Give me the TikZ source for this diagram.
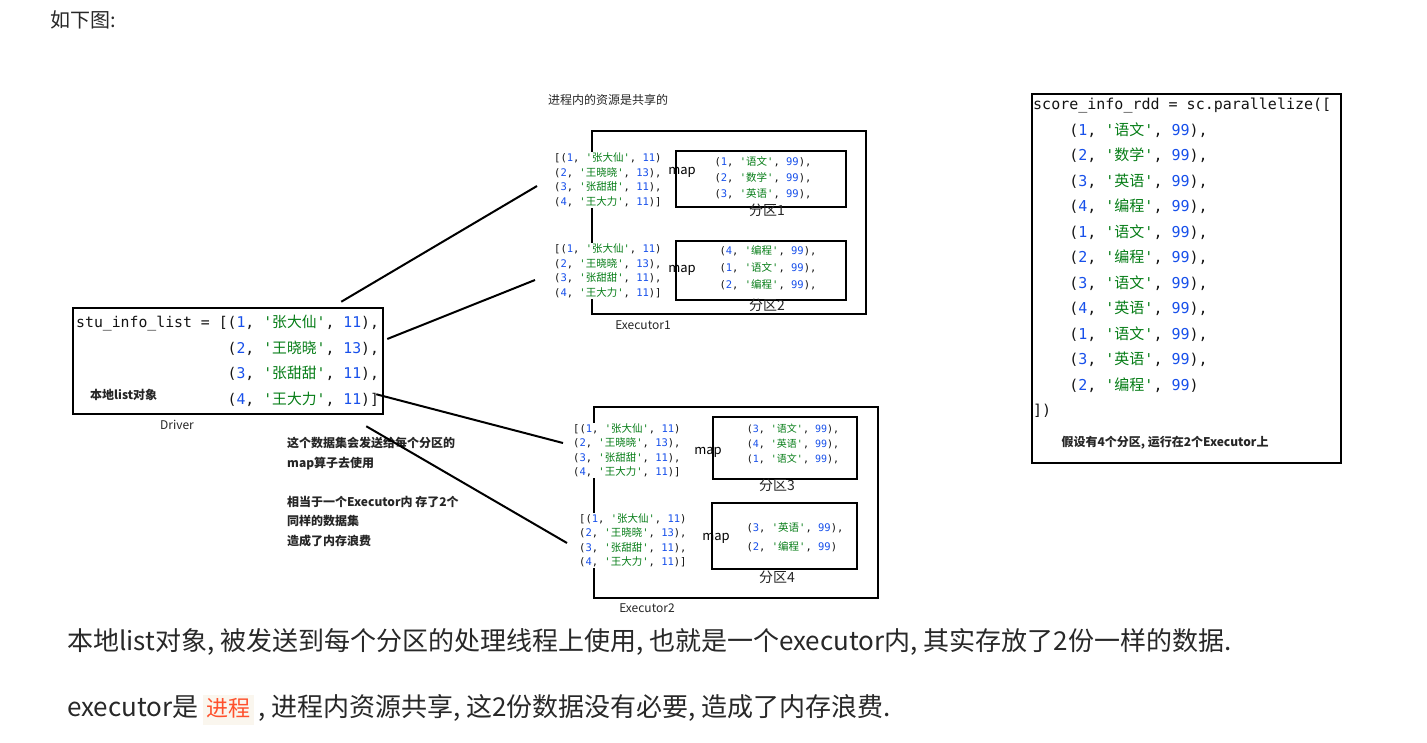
\documentclass[tikz,border=0pt]{standalone}
\usepackage{fontspec}
\setmainfont{Noto Sans CJK SC}
\setmonofont{DejaVu Sans Mono}
\newfontfamily\cjk{Noto Sans CJK SC}
\definecolor{numblue}{RGB}{23,80,235}
\definecolor{strgreen}{RGB}{6,125,23}
\definecolor{codedark}{RGB}{20,20,20}
\definecolor{bodytext}{RGB}{40,40,40}
\definecolor{hlred}{RGB}{255,80,44}
\definecolor{hlbg}{RGB}{250,246,238}
\newcommand{\pyrow}[3]{(\textcolor{numblue}{#1}, \textcolor{strgreen}{'{\cjk #2}'}, \textcolor{numblue}{#3})}
\usetikzlibrary{positioning}

\begin{document}
\begin{tikzpicture}[x=1pt, y=-1pt,
    box/.style={draw=black, line width=2.2pt},
    part/.style={draw=black, line width=2.5pt},
    lbl/.style={font=\fontsize{12}{14}\selectfont, text=black!85, inner sep=0pt},
    boldlbl/.style={font=\bfseries\fontsize{12}{19.6}\selectfont, text=black!85, inner sep=0pt, align=left},
    maplbl/.style={font=\fontsize{13}{15}\selectfont, inner sep=0pt},
    biglist/.style={font=\ttfamily\fontsize{14.8}{25.6}\selectfont, align=left, inner sep=0pt, text=codedark},
    smalllist/.style={font=\ttfamily\fontsize{10.5}{14.5}\selectfont, align=left, inner sep=1pt, fill=white, text=codedark},
    partdata/.style={font=\ttfamily\fontsize{10.5}{16}\selectfont, align=left, inner sep=0pt, text=codedark},
    link/.style={line width=2pt},
    body/.style={font=\fontsize{26}{30}\selectfont, text=bodytext, inner sep=0pt, anchor=west}
]
\fill[white] (0,0) rectangle (1427,742);
\useasboundingbox (0,0) rectangle (1427,742);

% Header
\node[body, font=\fontsize{20}{24}\selectfont] (intro) at (50,20) {如下图:};

% Driver
\node[box, line width=2.5pt, minimum width=310pt, minimum height=106pt] (driver) at (228,361) {};
\node[biglist, anchor=west] (drivercode) at (76,361) {stu\_info\_list = [\pyrow{1}{张大仙}{11},\\
\hphantom{stu\_info\_list = [}\pyrow{2}{王晓晓}{13},\\
\hphantom{stu\_info\_list = [}\pyrow{3}{张甜甜}{11},\\
\hphantom{stu\_info\_list = [}\pyrow{4}{王大力}{11}]};
\node[boldlbl, anchor=west] (locallbl) at (90,395) {本地list对象};
\node[lbl] (driverlbl) at (177,425) {Driver};

% Note
\node[boldlbl, anchor=west] (note) at (287,492) {这个数据集会发送给每个分区的\\map算子去使用\\[19.6pt]相当于一个Executor内 存了2个\\同样的数据集\\造成了内存浪费};

% Executor1
\node[lbl] (sharenote) at (608,100) {进程内的资源是共享的};
\node[box, minimum width=274pt, minimum height=183pt] (exec1) at (729,222.5) {};
\node[lbl] (exec1lbl) at (643,325) {Executor1};
\node[part, minimum width=170pt, minimum height=56pt] (part1) at (761,179) {};
\node[part, minimum width=170pt, minimum height=59pt] (part2) at (761,270.5) {};
\node[partdata] (data1) at (763,178) {\pyrow{1}{语文}{99},\\\pyrow{2}{数学}{99},\\\pyrow{3}{英语}{99},};
\node[partdata, font=\ttfamily\fontsize{10.5}{17}\selectfont] (data2) at (768,268) {\pyrow{4}{编程}{99},\\\pyrow{1}{语文}{99},\\\pyrow{2}{编程}{99},};
\node[lbl, font=\fontsize{14}{16}\selectfont] (part1lbl) at (767,210) {分区1};
\node[lbl, font=\fontsize{14}{16}\selectfont] (part2lbl) at (767,305) {分区2};
\node[smalllist, anchor=west] (list1) at (553,180) {[\pyrow{1}{张大仙}{11}\\\pyrow{2}{王晓晓}{13},\\\pyrow{3}{张甜甜}{11},\\\pyrow{4}{王大力}{11}]};
\node[smalllist, anchor=west] (list2) at (553,271) {[\pyrow{1}{张大仙}{11}\\\pyrow{2}{王晓晓}{13},\\\pyrow{3}{张甜甜}{11},\\\pyrow{4}{王大力}{11}]};
\node[maplbl] (map1) at (682,172) {map};
\node[maplbl] (map2) at (682,270) {map};

% Executor2
\node[box, minimum width=284pt, minimum height=191pt] (exec2) at (736,502.5) {};
\node[lbl] (exec2lbl) at (647,608) {Executor2};
\node[part, minimum width=144pt, minimum height=62pt] (part3) at (785,448) {};
\node[part, minimum width=145pt, minimum height=66pt] (part4) at (784.5,536) {};
\node[partdata, font=\ttfamily\fontsize{10}{15}\selectfont] (data3) at (793,444) {\pyrow{3}{语文}{99},\\\pyrow{4}{英语}{99},\\\pyrow{1}{语文}{99},};
\node[partdata, font=\ttfamily\fontsize{10.5}{19}\selectfont] (data4) at (795,537.5) {\pyrow{3}{英语}{99},\\\pyrow{2}{编程}{99}};
\node[lbl, font=\fontsize{14}{16}\selectfont] (part3lbl) at (777,485) {分区3};
\node[lbl, font=\fontsize{14}{16}\selectfont] (part4lbl) at (777,577) {分区4};
\node[smalllist, anchor=west] (list3) at (572,450.5) {[\pyrow{1}{张大仙}{11}\\\pyrow{2}{王晓晓}{13},\\\pyrow{3}{张甜甜}{11},\\\pyrow{4}{王大力}{11}]};
\node[smalllist, anchor=west] (list4) at (578,540.5) {[\pyrow{1}{张大仙}{11}\\\pyrow{2}{王晓晓}{13},\\\pyrow{3}{张甜甜}{11},\\\pyrow{4}{王大力}{11}]};
\node[maplbl] (map3) at (708,452) {map};
\node[maplbl] (map4) at (716,538) {map};

% Connections
\draw[link] ([xshift=-43pt,yshift=5pt]driver.north east) -- ([xshift=-16pt,yshift=-6pt]list1.west);
\draw[link] ([xshift=3pt,yshift=22pt]driver.east) -- ([xshift=-18pt,yshift=-9pt]list2.west);
\draw[link] ([xshift=-8pt,yshift=21pt]driver.south east) -- ([xshift=-9pt,yshift=7.5pt]list3.west);
\draw[link] ([xshift=-18pt,yshift=-11pt]driver.south east) -- ([xshift=-11pt,yshift=-2.5pt]list4.west);

% score_info_rdd
\node[box, line width=2pt, minimum width=309pt, minimum height=369pt] (rddbox) at (1186.5,278.5) {};
\node[biglist, font=\ttfamily\fontsize{15}{25.5}\selectfont, anchor=west] (rddcode) at (1033,258) {score\_info\_rdd = sc.parallelize([\\
\hphantom{xxxx}\pyrow{1}{语文}{99},\\
\hphantom{xxxx}\pyrow{2}{数学}{99},\\
\hphantom{xxxx}\pyrow{3}{英语}{99},\\
\hphantom{xxxx}\pyrow{4}{编程}{99},\\
\hphantom{xxxx}\pyrow{1}{语文}{99},\\
\hphantom{xxxx}\pyrow{2}{编程}{99},\\
\hphantom{xxxx}\pyrow{3}{语文}{99},\\
\hphantom{xxxx}\pyrow{4}{英语}{99},\\
\hphantom{xxxx}\pyrow{1}{语文}{99},\\
\hphantom{xxxx}\pyrow{3}{英语}{99},\\
\hphantom{xxxx}\pyrow{2}{编程}{99}\\
])};
\node[boldlbl] (rddlbl) at (1165,443) {假设有4个分区, 运行在2个Executor上};

% Summary
\node[body] (summary1) at (67,642) {本地list对象, 被发送到每个分区的处理线程上使用, 也就是一个executor内, 其实存放了2份一样的数据.};
\node[body] (summary2) at (67,710) {executor是\,{\fontsize{22}{24}\selectfont\setlength\fboxsep{3.5pt}\colorbox{hlbg}{\rule[-5pt]{0pt}{22pt}\textcolor{hlred}{进程}}}\,, 进程内资源共享, 这2份数据没有必要, 造成了内存浪费.};

\end{tikzpicture}
\end{document}
